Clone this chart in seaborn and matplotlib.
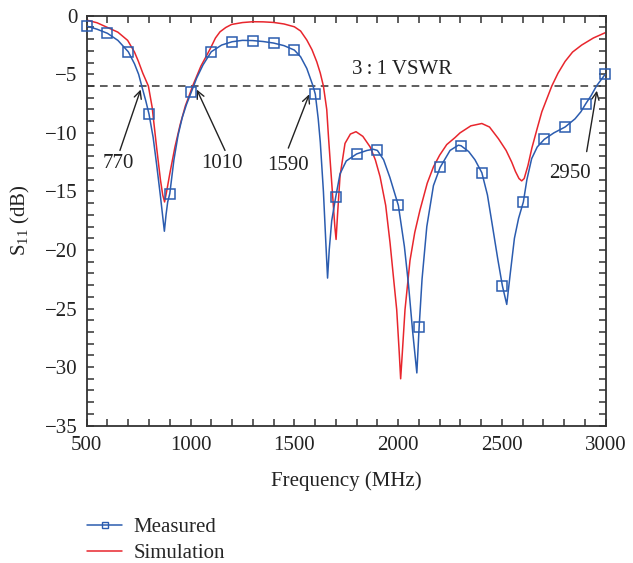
import numpy as np
import pandas as pd
import seaborn as sns
import matplotlib
matplotlib.use("Agg")
import matplotlib.pyplot as plt
from matplotlib.lines import Line2D
from matplotlib.ticker import MultipleLocator, FuncFormatter

# ---------------- data ----------------
meas_marker_f = [500, 600, 700, 800, 900, 1003, 1100, 1200, 1300, 1400, 1500, 1601,
                 1699, 1800, 1900, 2001, 2101, 2202, 2303, 2403, 2502, 2603, 2704,
                 2804, 2904, 2997]
meas_marker_db = [-0.88, -1.5, -3.07, -8.4, -15.2, -6.55, -3.07, -2.22, -2.16, -2.33,
                  -2.93, -6.7, -15.5, -11.8, -11.5, -16.2, -26.6, -12.95, -11.1, -13.4,
                  -23.06, -15.9, -10.55, -9.5, -7.5, -5.0]

meas_f = [500, 550, 600, 650, 700, 730, 750, 765, 785, 800, 820, 837, 855, 867, 874,
          882, 890, 900, 920, 940, 960, 980, 1003, 1030, 1060, 1100, 1150, 1200, 1250,
          1300, 1350, 1400, 1450, 1500, 1530, 1560, 1580, 1590, 1601, 1615, 1625, 1640,
          1652, 1660, 1668, 1680, 1699, 1720, 1750, 1800, 1850, 1880, 1900, 1930, 1960,
          2001, 2030, 2050, 2070, 2090, 2101, 2115, 2138, 2170, 2202, 2250, 2290, 2303,
          2340, 2370, 2403, 2430, 2451, 2480, 2502, 2523, 2540, 2560, 2580, 2603, 2620,
          2643, 2670, 2704, 2750, 2804, 2852, 2880, 2904, 2930, 2955, 2997]
meas_db = [-0.88, -1.15, -1.5, -2.1, -3.07, -4.1, -5.0, -6.0, -7.3, -8.4, -10.4, -12.75,
           -15.4, -17.3, -18.4, -17.0, -15.9, -15.2, -12.3, -10.2, -8.7, -7.6, -6.55,
           -5.3, -4.2, -3.07, -2.5, -2.22, -2.1, -2.12, -2.2, -2.33, -2.55, -2.93, -3.5,
           -4.5, -5.5, -6.0, -6.7, -8.8, -10.8, -15.0, -19.5, -22.4, -20.0, -17.5, -15.5,
           -13.5, -12.4, -11.8, -11.5, -11.4, -11.5, -12.3, -13.8, -16.2, -19.7, -23.0,
           -27.0, -30.5, -26.6, -22.5, -18.0, -14.5, -12.95, -11.5, -11.05, -11.1, -11.6,
           -12.3, -13.4, -15.3, -17.6, -20.8, -23.06, -24.65, -22.0, -19.0, -17.3, -15.9,
           -14.0, -12.2, -11.2, -10.55, -10.0, -9.5, -8.8, -8.2, -7.5, -6.8, -6.0, -5.0]

sim_f = [500, 550, 600, 650, 697, 730, 749, 770, 797, 815, 837, 855, 866, 875, 885, 900,
         925, 950, 975, 1000, 1010, 1050, 1094, 1120, 1142, 1170, 1198, 1250, 1300, 1350,
         1400, 1450, 1500, 1530, 1560, 1585, 1608, 1625, 1640, 1656, 1665, 1675, 1685,
         1695, 1701, 1708, 1720, 1744, 1770, 1797, 1830, 1865, 1890, 1913, 1940, 1961,
         1980, 1993, 2005, 2012, 2020, 2033, 2057, 2080, 2105, 2140, 2170, 2200, 2234,
         2274, 2298, 2350, 2403, 2440, 2483, 2520, 2547, 2565, 2582, 2595, 2607, 2625,
         2644, 2670, 2692, 2740, 2770, 2804, 2840, 2884, 2940, 2997]
sim_db = [-0.37, -0.6, -1.0, -1.4, -2.1, -3.1, -3.9, -4.9, -6.0, -7.8, -11.3, -14.0,
          -15.3, -15.9, -15.0, -13.5, -11.2, -9.3, -7.7, -6.5, -6.0, -4.3, -2.85, -1.9,
          -1.37, -1.0, -0.74, -0.58, -0.51, -0.52, -0.57, -0.7, -0.94, -1.3, -2.07, -2.9,
          -3.93, -4.9, -6.0, -8.0, -10.5, -13.0, -15.5, -18.0, -19.1, -17.0, -13.7, -10.9,
          -10.1, -9.9, -10.3, -11.2, -12.3, -13.75, -16.2, -19.4, -22.8, -25.1, -28.7,
          -31.0, -28.8, -25.1, -20.9, -18.5, -16.6, -14.3, -12.9, -11.9, -11.0, -10.4,
          -10.0, -9.4, -9.2, -9.5, -10.5, -11.5, -12.5, -13.3, -13.9, -14.1, -13.9, -12.8,
          -11.3, -9.6, -8.2, -6.0, -4.9, -3.9, -3.1, -2.5, -1.9, -1.45]

vswr_level = -6
annot_labels = ["770", "1010", "1590", "2950"]
annot_tip = [(760, -6.3), (1030, -6.3), (1572, -6.7), (2957, -6.4)]
annot_tail = [(660, -11.5), (1166, -11.5), (1471, -11.3), (2908, -11.6)]
annot_text = [(652, -12.6), (1150, -12.6), (1471, -12.75), (2828, -13.45)]

x_ticks = [500, 1000, 1500, 2000, 2500, 3000]
y_ticks = [0, -5, -10, -15, -20, -25, -30, -35]

# ---------------- style ----------------
sns.set_theme(style="ticks")
plt.rcParams["font.family"] = ["Liberation Serif", "DejaVu Serif"]
plt.rcParams["mathtext.fontset"] = "custom"
plt.rcParams["mathtext.rm"] = "Liberation Serif"
plt.rcParams["mathtext.it"] = "Liberation Serif:italic"
plt.rcParams["axes.unicode_minus"] = True

BLUE = "#2b5caf"
RED = "#e8262d"
DARK = "#333333"
TXT = "#222222"
FS = 15

fig = plt.figure(figsize=(6.33, 5.63), dpi=100)
ax = fig.add_axes([0.137, 0.244, 0.820, 0.728])

meas_curve = pd.DataFrame({"f": meas_f, "db": meas_db})
sim_curve = pd.DataFrame({"f": sim_f, "db": sim_db})
meas_pts = pd.DataFrame({"f": meas_marker_f, "db": meas_marker_db})

sns.lineplot(data=sim_curve, x="f", y="db", ax=ax, color=RED, lw=1.1,
             estimator=None, sort=False, zorder=2)
sns.lineplot(data=meas_curve, x="f", y="db", ax=ax, color=BLUE, lw=1.1,
             estimator=None, sort=False, zorder=3)
sns.lineplot(data=meas_pts, x="f", y="db", ax=ax, color=BLUE, linestyle="",
             marker="s", markersize=7, markerfacecolor="none",
             markeredgecolor=BLUE, markeredgewidth=1.1,
             estimator=None, sort=False, zorder=4, clip_on=False)

ax.axhline(vswr_level, color=DARK, lw=1.1, ls=(0, (5, 3.5)), zorder=1)
ax.text(2017, -4.6, "3\u2009:\u20091 VSWR", fontsize=FS, ha="center", va="center", color=TXT)

for lab, tip, tail, tpos in zip(annot_labels, annot_tip, annot_tail, annot_text):
    ax.annotate("", xy=tip, xytext=tail,
                arrowprops=dict(arrowstyle="->,head_length=0.45,head_width=0.22",
                                color=TXT, lw=1.0, shrinkA=0, shrinkB=0))
    ax.text(tpos[0], tpos[1], lab, fontsize=FS, ha="center", va="center", color=TXT)

ax.set_xlim(500, 3000)
ax.set_ylim(-35, 0)
ax.set_xticks(x_ticks)
ax.set_yticks(y_ticks)
ax.xaxis.set_minor_locator(MultipleLocator(100))
ax.yaxis.set_minor_locator(MultipleLocator(1))
ax.yaxis.set_major_formatter(FuncFormatter(lambda v, p: f"{int(v)}".replace("-", "\u2212")))
ax.tick_params(which="both", direction="in", top=True, right=True, color=DARK,
               width=1.1, labelsize=FS, labelcolor=TXT, length=5)
ax.tick_params(axis="x", which="major", pad=7.5)
ax.tick_params(axis="y", which="major", pad=6.5)
for s in ax.spines.values():
    s.set_color(DARK)
    s.set_linewidth(1.3)

ax.set_xlabel("Frequency (MHz)", fontsize=FS, color=TXT, labelpad=12)
ax.set_ylabel("S$_{11}$ (dB)", fontsize=FS, color=TXT, labelpad=9)

handles = [Line2D([], [], color=BLUE, lw=1.1, marker="s", markersize=5,
                  markerfacecolor="none", markeredgecolor=BLUE, markeredgewidth=1.0),
           Line2D([], [], color=RED, lw=1.1)]
fig.legend(handles, ["Measured", "Simulation"], loc="upper left",
           bbox_to_anchor=(0.138, 0.081), frameon=False, fontsize=FS,
           handlelength=1.65, handletextpad=0.56, labelspacing=0.31, borderpad=0,
           borderaxespad=0)

fig.savefig("out.png", dpi=100)
